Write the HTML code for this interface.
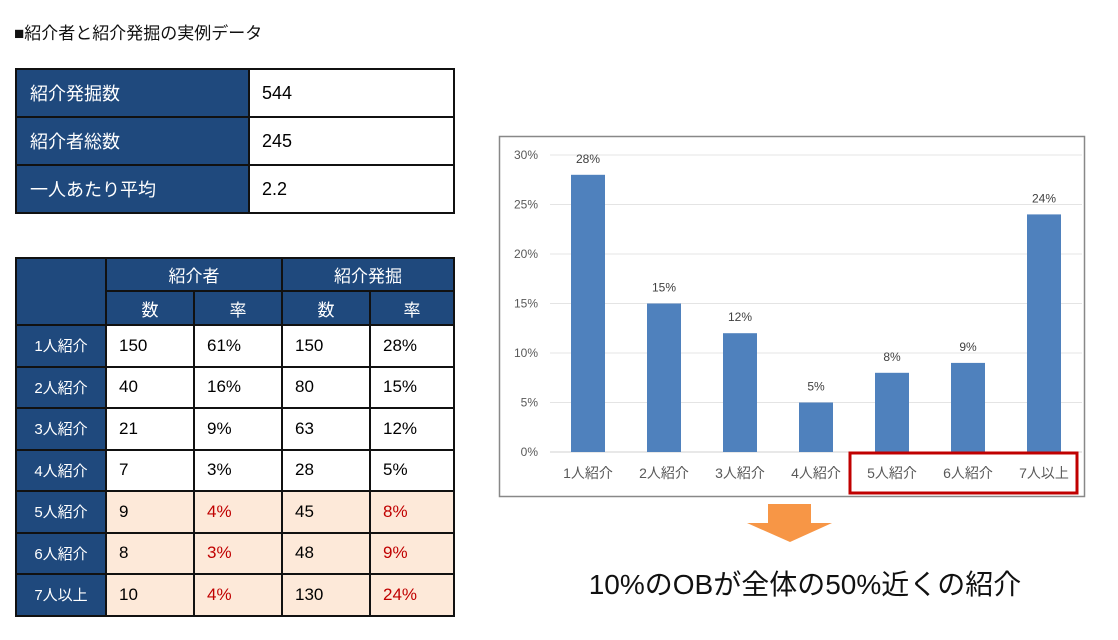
<!DOCTYPE html>
<html><head><meta charset="utf-8">
<style>
body{margin:0;width:1118px;height:640px;background:#fff;font-family:"Liberation Sans","Noto Sans CJK JP",sans-serif;position:relative;overflow:hidden}
.abs{position:absolute}
table{border-collapse:collapse;position:absolute}
td{border:2px solid #111;padding:0;font-size:17px}
.h{background:#1f497d;color:#fff}
.c{text-align:center}
.p{background:#fde9d9}
.r{color:#c00000}
</style></head><body>
<div class="abs" style="left:14px;top:19px;font-size:17px;color:#111">■紹介者と紹介発掘の実例データ</div>

<table style="left:15px;top:68px;width:440px">
<tr style="height:48px"><td class="h" style="width:218px;padding-left:13px;font-size:18px">紹介発掘数</td><td style="padding-left:12px;font-size:18px">544</td></tr>
<tr style="height:48px"><td class="h" style="padding-left:13px;font-size:18px">紹介者総数</td><td style="padding-left:12px;font-size:18px">245</td></tr>
<tr style="height:48px"><td class="h" style="padding-left:13px;font-size:18px">一人あたり平均</td><td style="padding-left:12px;font-size:18px">2.2</td></tr>
</table>

<table style="left:15px;top:257px;width:440px">
<tr style="height:33px"><td class="h" rowspan="2" style="width:88px"></td><td class="h c" colspan="2">紹介者</td><td class="h c" colspan="2">紹介発掘</td></tr>
<tr style="height:34px"><td class="h c" style="width:86px">数</td><td class="h c" style="width:86px">率</td><td class="h c" style="width:86px">数</td><td class="h c">率</td></tr>
<tr style="height:41.5px"><td class="h c" style="font-size:15px">1人紹介</td><td style="padding-left:12px">150</td><td style="padding-left:12px">61%</td><td style="padding-left:12px">150</td><td style="padding-left:12px">28%</td></tr>
<tr style="height:41.5px"><td class="h c" style="font-size:15px">2人紹介</td><td style="padding-left:12px">40</td><td style="padding-left:12px">16%</td><td style="padding-left:12px">80</td><td style="padding-left:12px">15%</td></tr>
<tr style="height:41.5px"><td class="h c" style="font-size:15px">3人紹介</td><td style="padding-left:12px">21</td><td style="padding-left:12px">9%</td><td style="padding-left:12px">63</td><td style="padding-left:12px">12%</td></tr>
<tr style="height:41.5px"><td class="h c" style="font-size:15px">4人紹介</td><td style="padding-left:12px">7</td><td style="padding-left:12px">3%</td><td style="padding-left:12px">28</td><td style="padding-left:12px">5%</td></tr>
<tr style="height:41.5px" class="p"><td class="h c" style="font-size:15px">5人紹介</td><td style="padding-left:12px">9</td><td class="r" style="padding-left:12px">4%</td><td style="padding-left:12px">45</td><td class="r" style="padding-left:12px">8%</td></tr>
<tr style="height:41.5px" class="p"><td class="h c" style="font-size:15px">6人紹介</td><td style="padding-left:12px">8</td><td class="r" style="padding-left:12px">3%</td><td style="padding-left:12px">48</td><td class="r" style="padding-left:12px">9%</td></tr>
<tr style="height:41.5px" class="p"><td class="h c" style="font-size:15px">7人以上</td><td style="padding-left:12px">10</td><td class="r" style="padding-left:12px">4%</td><td style="padding-left:12px">130</td><td class="r" style="padding-left:12px">24%</td></tr>
</table>

<svg class="abs" style="left:0;top:0" width="1118" height="640">
<rect x="499.5" y="136.5" width="585" height="360" fill="#fff" stroke="#888" stroke-width="1.5"/>
<g id="grid"></g><g id="bars"></g>
<rect x="850" y="453" width="227" height="40" fill="none" stroke="#c00000" stroke-width="3"/>
<polygon points="768,504 811,504 811,523 832,523 790,542 747,523 768,523" fill="#f79646"/>
<text x="805" y="594" text-anchor="middle" font-size="28" fill="#111" font-family="Liberation Sans, Noto Sans CJK JP, sans-serif">10%のOBが全体の50%近くの紹介</text>
</svg>
<script>
const categories=["1人紹介","2人紹介","3人紹介","4人紹介","5人紹介","6人紹介","7人以上"];
const values=[28,15,12,5,8,9,24];
const ticks=[0,5,10,15,20,25,30];
const NS="http://www.w3.org/2000/svg";
const x0=550,x1=1082,y0=452,yTop=155,yMax=30;
const bw=(x1-x0)/categories.length;
const y=v=>y0-(v/yMax)*(y0-yTop);
const xc=i=>x0+bw*(i+0.5);
const g=document.getElementById('grid'),b=document.getElementById('bars');
function mk(t,a,p){const e=document.createElementNS(NS,t);for(const k in a)e.setAttribute(k,a[k]);p.appendChild(e);return e;}
ticks.forEach(t=>{
 const l=mk('line',{x1:x0,x2:x1,y1:y(t),y2:y(t),stroke:t===0?'#d0d0d0':'#e4e4e4','stroke-width':1},g);
 
 
 const tx=mk('text',{x:538,y:y(t)+4,'text-anchor':'end','font-size':12,fill:'#595959'},g);
 tx.textContent=t+'%';
 
 
});
values.forEach((v,i)=>{
 const r=mk('rect',{x:xc(i)-17,y:y(v),width:34,height:y0-y(v),fill:'#4f81bd'},b);
 
 
 const t=mk('text',{x:xc(i),y:y(v)-12,'text-anchor':'middle','font-size':12,fill:'#404040'},b);
 t.textContent=v+'%';
 
 
 const c=mk('text',{x:xc(i),y:478,'text-anchor':'middle','font-size':14,fill:'#595959'},b);
 c.textContent=categories[i];
 
 
});
</script>
</body></html>
